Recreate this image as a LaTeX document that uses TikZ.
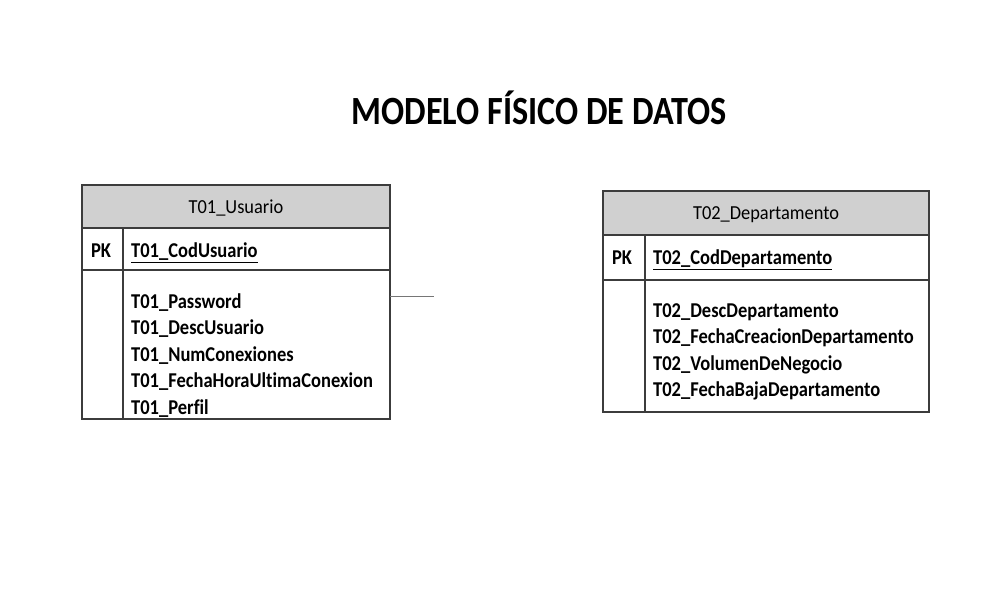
\documentclass[tikz,border=0pt]{standalone}
\usepackage{graphicx}
\usepackage{fontspec}
\setmainfont[Ligatures={NoCommon,TeX}]{Carlito}
\definecolor{hdr}{RGB}{208,208,208}
\definecolor{edge}{RGB}{60,60,60}
\newcommand{\tall}[2][1.14]{\scalebox{1}[#1]{#2}}
\begin{document}
\begin{tikzpicture}[x=1pt,y=-1pt,
  tbl/.style={draw=edge,line width=1.3pt},
  hdrbox/.style={draw=edge,line width=1.3pt,fill=hdr},
  sep/.style={draw=edge,line width=1.3pt},
  hdrtext/.style={inner sep=0pt,anchor=base,font=\fontsize{18.4}{20}\selectfont},
  attr/.style={inner sep=0pt,anchor=base west,font=\fontsize{18.5}{20}\selectfont\bfseries},
  pk/.style={inner sep=0pt,anchor=base,font=\fontsize{18.5}{20}\selectfont\bfseries},
  link/.style={draw=edge!70,line width=0.8pt}]
\useasboundingbox (0,0) rectangle (1000,600);
\fill[white] (0,0) rectangle (1000,600);
\node[inner sep=0pt,anchor=base,font=\fontsize{34.2}{40}\selectfont\bfseries] (title) at (539,124) {\tall[1.17]{MODELO FÍSICO DE DATOS}};
% Table 1
\draw[hdrbox] (82,185) rectangle (390,228);
\draw[tbl] (82,228) rectangle (390,419);
\draw[sep] (82,270) -- (390,270);
\draw[sep] (123,228) -- (123,419);
\node[hdrtext] (t1h) at (236,213) {\tall[1.08]{T01\_Usuario}};
\node[pk] (t1pk) at (101,257.5) {\tall{PK}};
\node[attr] (t1k) at (131,257.5) {\tall{\underline{T01\_CodUsuario}}};
\node[attr] (t1a) at (131,308) {\tall{T01\_Password}};
\node[attr] (t1b) at (131,334.5) {\tall{T01\_DescUsuario}};
\node[attr] (t1c) at (131,361) {\tall{T01\_NumConexiones}};
\node[attr] (t1d) at (131,387.5) {\tall{T01\_FechaHoraUltimaConexion}};
\node[attr] (t1e) at (131,414) {\tall{T01\_Perfil}};
\coordinate (t1r) at (390,296);
\coordinate (stub) at (434,296);
\draw[link] (t1r) -- (stub);
% Table 2
\draw[hdrbox] (603,191) rectangle (929,235);
\draw[tbl] (603,235) rectangle (929,412);
\draw[sep] (603,280) -- (929,280);
\draw[sep] (645,235) -- (645,412);
\node[hdrtext] (t2h) at (766,219) {\tall[1.08]{T02\_Departamento}};
\node[pk] (t2pk) at (622,264.5) {\tall{PK}};
\node[attr] (t2k) at (653,264.5) {\tall{\underline{T02\_CodDepartamento}}};
\node[attr] (t2a) at (653,317) {\tall{T02\_DescDepartamento}};
\node[attr] (t2b) at (653,343.5) {\tall{T02\_FechaCreacionDepartamento}};
\node[attr] (t2c) at (653,370) {\tall{T02\_VolumenDeNegocio}};
\node[attr] (t2d) at (653,396.5) {\tall{T02\_FechaBajaDepartamento}};
\end{tikzpicture}
\end{document}
